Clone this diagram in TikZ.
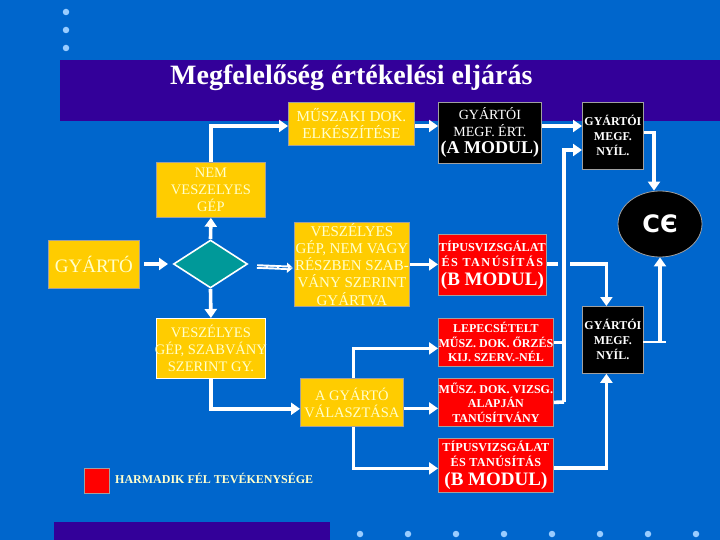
\documentclass[tikz,border=0pt]{standalone}
\usepackage{fontspec}
\setmainfont{Liberation Serif}
\newfontfamily\cefont{DejaVu Sans}
\usetikzlibrary{arrows.meta,shapes.geometric}
\definecolor{bgblue}{HTML}{0066CC}
\definecolor{band}{HTML}{330099}
\definecolor{yel}{HTML}{FFCC00}
\definecolor{rd}{HTML}{FF0000}
\definecolor{teal2}{HTML}{009999}
\definecolor{dotc}{HTML}{99CCFF}
\definecolor{edgegray}{HTML}{A0A0A0}
\definecolor{txtyel}{HTML}{FFFFCC}
\tikzset{
 x=1pt,y=-1pt,
 base/.style={draw=edgegray,line width=0.8pt,inner xsep=-6pt,inner ysep=0pt,align=center,anchor=north west},
 ybox/.style={base,fill=yel,text=txtyel,font=\fontsize{14.5}{17}\selectfont},
 rbox/.style={base,fill=rd,text=white,font=\fontsize{12}{14.5}\selectfont\bfseries},
 kbox/.style={base,fill=black,text=white,font=\fontsize{12}{15}\selectfont\bfseries},
 conn/.style={draw=white,line width=3.6pt,-{Triangle[length=9pt,width=12pt]}},
 plain/.style={draw=white,line width=3.6pt},
 thinl/.style={draw=white,line width=1.6pt},
 dotn/.style={circle,fill=dotc,minimum size=6.5pt,inner sep=0pt}
}
\newcommand{\bigmod}{\fontsize{19}{20}\selectfont\bfseries}
\begin{document}
\begin{tikzpicture}
\useasboundingbox (0,0) rectangle (720,540);
\fill[bgblue] (0,0) rectangle (720,540);
\fill[band] (60,60) rectangle (720,121);
\fill[band] (54,522) rectangle (330,540);
\foreach \i/\y in {a/12,b/30,c/48} \node[dotn] (d\i) at (66,\y) {};
\foreach \x in {360,408,456,504,552,600,648,696} \node[dotn] (e\x) at (\x,534) {};
\node[text=white,font=\fontsize{28}{30}\selectfont\bfseries,anchor=base west,inner sep=0pt] (title) at (170,85) {Megfelelőség értékelési eljárás};

\node[ybox,font=\fontsize{15.2}{17}\selectfont,minimum width=126pt,minimum height=43pt] (mus) at (288,102) {MŰSZAKI DOK.\\ELKÉSZÍTÉSE};
\node[ybox,minimum width=109pt,minimum height=55pt] (nem) at (156,162) {NEM\\VESZELYES\\GÉP};
\node[ybox,font=\fontsize{15}{17.2}\selectfont,minimum width=115pt,minimum height=84pt] (vez) at (294,222) {VESZÉLYES\\GÉP, NEM VAGY\\RÉSZBEN SZAB-\\VÁNY SZERINT\\GYÁRTVA};
\node[ybox,minimum width=91pt,minimum height=48pt,font=\fontsize{19}{20}\selectfont] (gy) at (48,240) {GYÁRTÓ};
\node[ybox,draw=white,minimum width=109pt,minimum height=60pt] (szab) at (156,318) {VESZÉLYES\\GÉP, SZABVÁNY\\SZERINT GY.};
\node[ybox,minimum width=103pt,minimum height=48pt] (val) at (300,378) {A GYÁRTÓ\\VÁLASZTÁSA};

\node[kbox,font=\fontsize{14}{17}\selectfont,minimum width=103pt,minimum height=61pt] (am) at (438,102) {GYÁRTÓI\\MEGF. ÉRT.\\{\fontsize{18}{20}\selectfont\bfseries (A MODUL)}};
\node[kbox,minimum width=61pt,minimum height=67pt] (ny1) at (582,102) {GYÁRTÓI\\MEGF.\\NYÍL.};
\node[kbox,minimum width=61pt,minimum height=67pt] (ny2) at (582,306) {GYÁRTÓI\\MEGF.\\NYÍL.};
\node[ellipse,draw=edgegray,fill=black,line width=0.8pt,minimum width=84pt,minimum height=66pt,inner sep=0pt,text=white,font=\cefont\fontsize{24}{26}\selectfont\bfseries] (ce) at (660,224) {CЄ};

\node[rbox,font=\fontsize{12.2}{15}\selectfont\bfseries,minimum width=108pt,minimum height=61pt] (t1) at (438,234) {TÍPUSVIZSGÁLAT\\{\addfontfeature{LetterSpace=12}ÉS TANÚSÍTÁS}\\[4pt]{\bigmod (B MODUL)}};
\node[rbox,minimum width=115pt,minimum height=48pt] (lep) at (438,318) {LEPECSÉTELT\\MŰSZ. DOK. ŐRZÉS\\KIJ. SZERV.-NÉL};
\node[rbox,minimum width=115pt,minimum height=48pt] (mv) at (438,378) {MŰSZ. DOK. VIZSG.\\ALAPJÁN\\TANÚSÍTVÁNY};
\node[rbox,font=\fontsize{12.2}{15}\selectfont\bfseries,minimum width=115pt,minimum height=54pt] (t2) at (438,438) {TÍPUSVIZSGÁLAT\\{\addfontfeature{LetterSpace=3}ÉS TANÚSÍTÁS}\\[4pt]{\bigmod (B MODUL)}};

\node[base,fill=rd,minimum width=25pt,minimum height=25pt] (leg) at (84,468) {};
\node[text=txtyel,font=\fontsize{12}{14}\selectfont\bfseries,anchor=west,inner sep=0pt] (legt) at (115,478) {HARMADIK FÉL TEVÉKENYSÉGE};

\node[diamond,draw=white,fill=teal2,line width=1.6pt,minimum width=74pt,minimum height=48pt,inner sep=0pt] (dia) at (210.5,264) {};

% free ends
\coordinate (gyout) at (144,264);
\coordinate (diain) at (168,264);
\coordinate (hs) at (257,266.5);
\coordinate (he) at (293,268);
\coordinate (t1a) at (558,264);
\coordinate (t1b) at (570,264);
\coordinate (bus) at (564,150);
\coordinate (busb) at (564,402);
\coordinate (ny1in) at (582,150);
\coordinate (ny2o) at (643,342);
\coordinate (ny2t) at (666,342);
\coordinate (rowa) at (0,126);
\coordinate (rowb) at (0,468);

% connectors
\draw[conn] (dia.north) -- (nem.south);
\draw[conn] (dia.south) -- (szab.north);
\draw[conn] (gyout) -- (diain);
\draw[draw=white,line width=4.5pt,-{Triangle[length=6pt,width=10pt]}] (hs) -- (he);
\draw[draw=bgblue,line width=0.6pt,dash pattern=on 9pt off 2pt] (hs) -- (he);
\draw[conn] (nem.north) |- (mus.west |- rowa);
\draw[conn] (mus.east |- rowa) -- (am.west |- rowa);
\draw[conn] (am.east |- rowa) -- (ny1.west |- rowa);
\draw[conn] ([yshift=3.5pt]ny1.east) -| ([xshift=-6pt]ce.north);
\draw[conn] (busb) -- (bus) -- (ny1in);
\draw[plain] (mv.east) -- (busb);
\draw[plain] (lep.east) -- (bus |- lep.east);
\draw[conn] (vez.east) -- (t1.west |- vez.east);
\draw[plain] (t1.east |- t1a) -- (t1a);
\draw[conn] (t1b) -| ([xshift=-6.5pt]ny2.north);
\draw[conn] (t2.east |- rowb) -| ([xshift=-6.5pt]ny2.south);
\draw[thinl] (ny2o) -- (ny2t);
\draw[conn] (ce.south |- ny2o) -- (ce.south);
\draw[conn] (szab.south) |- ([yshift=-30pt]szab.south -| val.west);
\draw[conn] ([yshift=-6pt]val.east) -- ([yshift=-6pt]mv.west);
\draw[conn] ([xshift=1.5pt]val.north) |- ([yshift=-6pt]lep.west);
\draw[conn] ([xshift=1.5pt]val.south) |- ([yshift=-3pt]t2.west);
\end{tikzpicture}
\end{document}
